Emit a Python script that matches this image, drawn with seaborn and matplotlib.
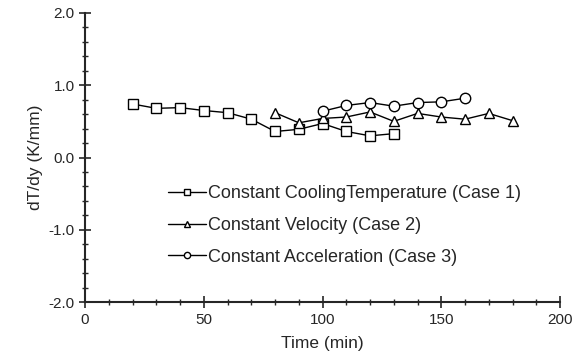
import numpy as np
import pandas as pd
import matplotlib
matplotlib.use("Agg")
import matplotlib.pyplot as plt
from matplotlib.ticker import MultipleLocator
import seaborn as sns

# --- data ---
case1_time = [20, 30, 40, 50, 60, 70, 80, 90, 100, 110, 120, 130]
case1_grad = [0.74, 0.68, 0.69, 0.65, 0.62, 0.53, 0.36, 0.39, 0.47, 0.36, 0.30, 0.33]

case2_time = [80, 90, 100, 110, 120, 130, 140, 150, 160, 170, 180]
case2_grad = [0.62, 0.48, 0.54, 0.56, 0.63, 0.50, 0.61, 0.56, 0.53, 0.61, 0.51]

case3_time = [100, 110, 120, 130, 140, 150, 160]
case3_grad = [0.64, 0.72, 0.76, 0.71, 0.76, 0.77, 0.82]

labels = ["Constant CoolingTemperature (Case 1)",
          "Constant Velocity (Case 2)",
          "Constant Acceleration (Case 3)"]
markers = ["s", "^", "o"]

sns.set_style("ticks")
plt.rcParams['font.family'] = ['Liberation Sans', 'DejaVu Sans']

fig, ax = plt.subplots(figsize=(5.87, 3.58), dpi=100)

series = [(case1_time, case1_grad), (case2_time, case2_grad), (case3_time, case3_grad)]
for (t, g), lab, m in zip(series, labels, markers):
    df = pd.DataFrame({"time": t, "grad": g})
    sns.lineplot(data=df, x="time", y="grad", ax=ax, color="black", linewidth=1.0,
                 marker=m, markersize=7.5, markerfacecolor="white", markeredgecolor="black",
                 markeredgewidth=1.0, label=lab)

ax.set_xlim(0, 200)
ax.set_ylim(-2.0, 2.0)
ax.xaxis.set_major_locator(MultipleLocator(50))
ax.xaxis.set_minor_locator(MultipleLocator(10))
ax.yaxis.set_major_locator(MultipleLocator(1.0))
ax.yaxis.set_minor_locator(MultipleLocator(0.2))
ax.yaxis.set_major_formatter(matplotlib.ticker.FormatStrFormatter('%.1f'))
ax.tick_params(which="major", direction="inout", length=8, width=1.2, labelsize=11)
ax.tick_params(which="minor", direction="inout", length=4, width=1.0)
sns.despine(ax=ax)
for s in ["left", "bottom"]:
    ax.spines[s].set_linewidth(1.5)

ax.set_xlabel("Time (min)", fontsize=12.5, labelpad=7)
ax.set_ylabel("dT/dy (K/mm)", fontsize=12.5, labelpad=4)

leg = ax.legend(loc="lower left", bbox_to_anchor=(0.14, 0.07), frameon=False,
                fontsize=13, handlelength=2.1, markerscale=0.6, labelspacing=0.82,
                handletextpad=0.15)

fig.subplots_adjust(left=0.145, right=0.954, top=0.964, bottom=0.156)
fig.savefig("out.png", dpi=100)
